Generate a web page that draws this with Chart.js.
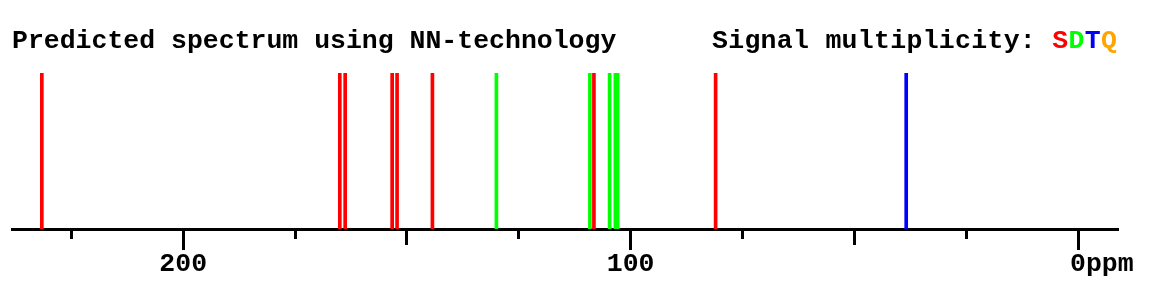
<!DOCTYPE html>
<html>
<head>
<meta charset="utf-8">
<script src="https://cdn.jsdelivr.net/npm/chart.js@4.4.1/dist/chart.umd.min.js"></script>
<style>
  body { margin: 0; background: #fff; }
  #wrap { position: relative; width: 1173px; height: 290px; }
  .ttl { position: absolute; top: 26px; line-height: 26.5px; white-space: pre;
         font: bold 26.5px "Courier New", "Liberation Mono", monospace; color: #000; }
</style>
</head>
<body>
<div id="wrap">
  <canvas id="spec" width="1173" height="290"></canvas>
  <div class="ttl" style="left:12px">Predicted spectrum using NN-technology</div>
  <div class="ttl" style="left:712px;letter-spacing:0.3px">Signal multiplicity: <span style="color:#ff0000">S</span><span style="color:#00ff00">D</span><span style="color:#0000ff">T</span><span style="color:#ffa500">Q</span></div>
</div>
<script>
// --- DATA (ppm shifts) ---
const shifts = [231.6, 165.0, 163.8, 153.3, 152.2, 144.3, 130.0, 109.1, 108.2, 104.7, 103.4, 102.9, 81.0, 38.4];
const multiplicity = ['S', 'S', 'S', 'S', 'S', 'S', 'D', 'D', 'S', 'D', 'D', 'D', 'S', 'T'];
const heights = [1, 1, 1, 1, 1, 1, 1, 1, 1, 1, 1, 1, 1, 1];
const labelledTicks = [200, 100, 0];

const multColors = { S: '#ff0000', D: '#00ff00', T: '#0000ff', Q: '#ffa500' };
const ppmMin = -8.94, ppmMax = 238.27;
const monoFont = { family: '"Courier New", "Liberation Mono", monospace', size: 26.5, weight: 'bold' };

// one bottom axis per tick length (25 / 50 / 100 ppm)
const tickAxis = (step, len, weight, extra) => Object.assign({
    type: 'linear', position: 'bottom', reverse: true, offset: false,
    min: ppmMin, max: ppmMax, weight: weight,
    grid: { display: true, offset: false, drawOnChartArea: false, tickLength: len, tickWidth: 3, tickColor: '#000' },
    border: { display: false },
    ticks: { display: false, stepSize: step, includeBounds: false, autoSkip: false, maxRotation: 0 },
    afterFit: (s) => { s.height = 0; }
}, extra);

new Chart(document.getElementById('spec'), {
    type: 'bar',
    data: {
        datasets: [{
            data: shifts.map((p, i) => ({ x: p, y: heights[i] })),
            backgroundColor: multiplicity.map(m => multColors[m]),
            barThickness: 3,
            borderWidth: 0
        }]
    },
    options: {
        responsive: false, animation: false, devicePixelRatio: 1,
        layout: { padding: { left: 12, right: 55, top: 73, bottom: 0 } },
        plugins: { legend: { display: false }, tooltip: { enabled: false } },
        scales: {
            y: { display: false, min: 0, max: 1 },
            x: tickAxis(25, 10, 0, { border: { display: true, width: 3, color: '#000' } }),
            x2: tickAxis(50, 16, 1),
            x3: tickAxis(100, 21, 2, {
                ticks: {
                    display: true, stepSize: 100, includeBounds: false, autoSkip: false, maxRotation: 0,
                    color: '#000', font: monoFont, padding: -2,
                    callback: (v) => labelledTicks.includes(v) ? (v === 0 ? '   0ppm' : String(v)) : ''
                },
                afterFit: (s) => { s.height = 61; }
            })
        }
    }
});
</script>
</body>
</html>
